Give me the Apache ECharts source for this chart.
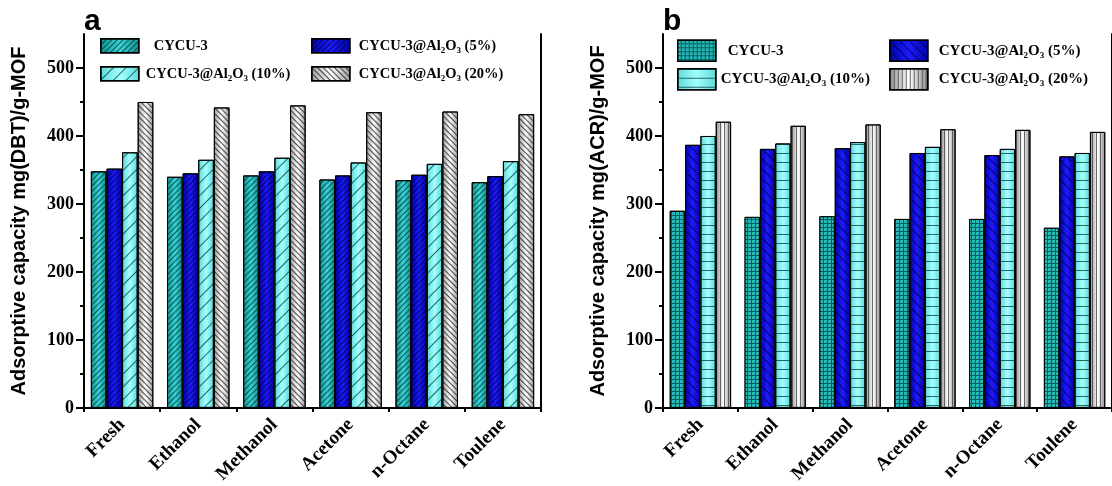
<!DOCTYPE html>
<html><head><meta charset="utf-8">
<script src="https://cdn.jsdelivr.net/npm/echarts@6/dist/echarts.min.js"></script>
<style>html,body{margin:0;padding:0;background:#fff}#c{width:1112px;height:486px}</style>
</head><body><div id="c"></div>
<script>
const categories = ['Fresh','Ethanol','Methanol','Acetone','n-Octane','Toulene'];
const seriesNames = ['CYCU-3','CYCU-3@Al2O3 (5%)','CYCU-3@Al2O3 (10%)','CYCU-3@Al2O3 (20%)'];
const dbt_cycu3 = [348,340,342,336,335,332];
const dbt_al5   = [352,345,348,342,343,341];
const dbt_al10  = [376,365,368,361,359,363];
const dbt_al20  = [450,442,445,435,436,432];
const acr_cycu3 = [290,281,282,278,278,265];
const acr_al5   = [387,381,382,375,372,370];
const acr_al10  = [400,389,391,384,381,375];
const acr_al20  = [421,415,417,410,409,406];
const yTicks = [0,100,200,300,400,500];
const yMinorTicks = [50,150,250,350,450];
const yTitleA = 'Adsorptive capacity mg(DBT)/g-MOF';
const yTitleB = 'Adsorptive capacity mg(ACR)/g-MOF';

const SERIF = "'Liberation Serif','Times New Roman',serif";
const SANS = "'Liberation Sans',Arial,sans-serif";

function grad(edge, mid){
  return {type:'linear',x:0,y:0,x2:1,y2:0,colorStops:[{offset:0,color:edge},{offset:0.5,color:mid},{offset:1,color:edge}]};
}
function hatch(color, w, gap, rot){
  return {symbol:'rect',symbolSize:1,dashArrayX:[1,0],dashArrayY:[w,gap],rotation:rot,color:color};
}
const SL = -Math.PI/4, BS = Math.PI/4;
const stylesA = [
  {color:grad('#109090','#3ad4d4'), decal:hatch('rgba(0,50,50,0.75)',1,3,SL)},
  {color:grad('#0000a8','#1c1cff'), decal:hatch('rgba(0,0,70,0.8)',1,3,SL)},
  {color:grad('#5cd8d8','#a4ffff'), decal:hatch('rgba(0,70,70,0.8)',1,8,SL)},
  {color:grad('#9a9a9a','#ffffff'), decal:hatch('rgba(40,40,40,0.85)',1,2.5,BS)}
];
const stylesB = [
  {color:'#0b5f5f', decal:{symbol:'rect',symbolSize:1,dashArrayX:[3,1],dashArrayY:[3,1],rotation:0,color:'#27b8b8'}},
  {color:grad('#0000a8','#1c1cff'), decal:hatch('rgba(0,0,70,0.85)',1,6,BS)},
  {color:grad('#5cd8d8','#a4ffff'), decal:hatch('rgba(20,90,90,0.9)',1,8,0)},
  {color:grad('#8a8a8a','#ffffff'), decal:{symbol:'rect',symbolSize:1,dashArrayX:[1,3],dashArrayY:[1,0],rotation:0,color:'rgba(70,70,70,0.8)'}}
];

const axisLineStyle = {color:'#000',width:2};
const grids = [
  {left:84, top:34, width:457, height:374},
  {left:663, top:34, width:456, height:374}
];
const xAxes = [], yAxes = [];
[0,1].forEach(g=>{
  xAxes.push({type:'category',gridIndex:g,data:categories,position:'bottom',
    axisLine:{lineStyle:axisLineStyle},
    axisTick:{alignWithLabel:true,length:8,lineStyle:{color:'#000',width:2}},
    axisLabel:{rotate:45,margin:14,color:'#000',fontFamily:SERIF,fontWeight:'bold',fontSize:19}});
  xAxes.push({type:'category',gridIndex:g,data:categories,position:'bottom',
    axisLine:{show:false},axisTick:{show:true,length:4,lineStyle:{color:'#000',width:2}},axisLabel:{show:false}});
  xAxes.push({type:'category',gridIndex:g,data:categories,position:'top',
    axisLine:{lineStyle:axisLineStyle},axisTick:{show:false},axisLabel:{show:false}});
  yAxes.push({type:'value',gridIndex:g,min:0,max:550,interval:50,position:'left',
    name:g===0?yTitleA:yTitleB,nameLocation:'middle',nameGap:55,
    nameTextStyle:{fontFamily:SANS,fontWeight:'bold',fontSize:20,color:'#000'},
    splitLine:{show:false},axisLine:{show:true,lineStyle:axisLineStyle},
    axisTick:{show:true,length:8,customValues:yTicks,lineStyle:{color:'#000',width:2}},
    axisLabel:{customValues:yTicks,margin:10,color:'#000',fontFamily:SERIF,fontWeight:'bold',fontSize:18}});
  yAxes.push({type:'value',gridIndex:g,min:0,max:550,interval:50,position:'left',
    splitLine:{show:false},axisLine:{show:false},
    axisTick:{show:true,length:4,customValues:yMinorTicks,lineStyle:{color:'#000',width:2}},
    axisLabel:{show:false}});
  yAxes.push({type:'value',gridIndex:g,min:0,max:550,position:'right',
    splitLine:{show:false},axisLine:{show:true,lineStyle:axisLineStyle},axisTick:{show:false},axisLabel:{show:false}});
});

const dataA = [dbt_cycu3,dbt_al5,dbt_al10,dbt_al20];
const dataB = [acr_cycu3,acr_al5,acr_al10,acr_al20];
const series = [];
dataA.forEach((d,i)=>series.push({type:'bar',name:seriesNames[i],xAxisIndex:0,yAxisIndex:0,data:d,
  barGap:'0%',barCategoryGap:'18%',
  itemStyle:Object.assign({borderColor:'#000',borderWidth:1},stylesA[i])}));
dataB.forEach((d,i)=>series.push({type:'bar',name:'b:'+seriesNames[i],xAxisIndex:3,yAxisIndex:3,data:d,
  barGap:'0%',barCategoryGap:'18%',
  itemStyle:Object.assign({borderColor:'#000',borderWidth:1},stylesB[i])}));

function makeLegend(name, left, top, iw, ih, fs, pad){
  const base = {fontFamily:SERIF,fontWeight:'bold',fontSize:fs,color:'#000',lineHeight:18,verticalAlign:'middle'};
  const rich = {
    f: Object.assign({},base,{padding:[0,0,0,pad]}),
    t: base,
    s: {fontFamily:SERIF,fontWeight:'bold',fontSize:Math.round(fs*0.62),color:'#000',lineHeight:9,verticalAlign:'bottom'}
  };
  return {data:[name],left:left,top:top,padding:0,itemWidth:iw,itemHeight:ih,icon:'rect',selectedMode:false,
    itemStyle:{borderColor:'#000',borderWidth:1.5},
    textStyle:{rich:rich},
    formatter:function(n){
      n = n.replace(/^b:/,'');
      if(n==='CYCU-3') return '{f|CYCU-3}';
      const pct = n.split(' ')[1];
      return '{f|CYCU-3@Al}{s|2}{t|O}{s|3}{t| '+pct+'}';
    }};
}
const legends = [
  makeLegend(seriesNames[0],100,38,38,14,14.5,10),
  makeLegend(seriesNames[2],100,66,38,14,14.5,2),
  makeLegend(seriesNames[1],311,38,38,14,14.5,4),
  makeLegend(seriesNames[3],311,66,38,14,14.5,4),
  makeLegend('b:'+seriesNames[0],677,39.5,38,21,15,7),
  makeLegend('b:'+seriesNames[2],677,68,38,21,15,0),
  makeLegend('b:'+seriesNames[1],889,39.5,38,21,15,6),
  makeLegend('b:'+seriesNames[3],889,68,38,21,15,6)
];

const chart = echarts.init(document.getElementById('c'));
chart.setOption({
  animation:false,
  backgroundColor:'#fff',
  grid:grids,xAxis:xAxes,yAxis:yAxes,series:series,legend:legends,
  graphic:[
    {type:'text',x:84,y:37,style:{text:'a',fontFamily:SANS,fontWeight:'bold',fontSize:30,fill:'#000',verticalAlign:'bottom'}},
    {type:'text',x:663,y:37,style:{text:'b',fontFamily:SANS,fontWeight:'bold',fontSize:30,fill:'#000',verticalAlign:'bottom'}}
  ]
});
</script></body></html>
